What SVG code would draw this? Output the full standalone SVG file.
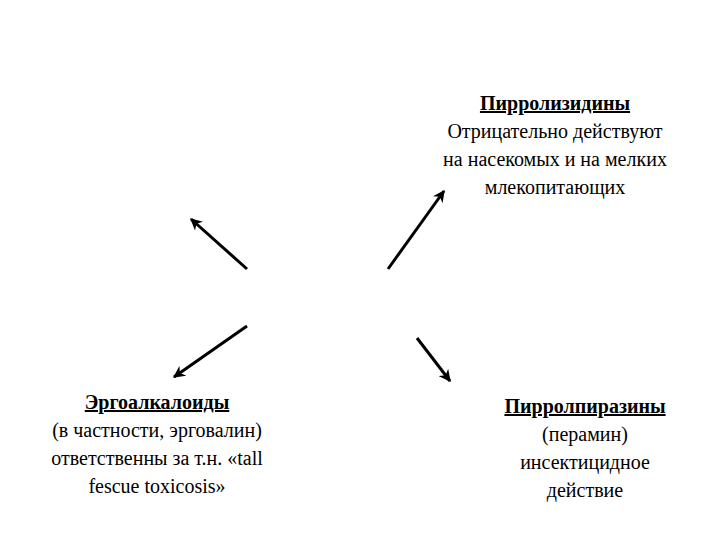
<svg xmlns="http://www.w3.org/2000/svg" width="720" height="540" viewBox="0 0 720 540">
<style>
text{font-family:"Liberation Serif","Times New Roman",serif;font-size:20px;fill:#000;text-anchor:middle}
.t{font-weight:bold;text-decoration:underline}
line{stroke:#000;stroke-width:3}
</style>
<defs><marker id="a" viewBox="0 0 10 10" refX="9" refY="5" markerWidth="4" markerHeight="4" orient="auto"><path d="M0,0L10,5L0,10L3,5z" fill="#000"/></marker></defs>
<rect width="720" height="540" fill="#fff"/>
<g id="connectors">
<line x1="247" y1="269" x2="191" y2="219" marker-end="url(#a)"/>
<line x1="388" y1="269" x2="444" y2="191" marker-end="url(#a)"/>
<line x1="247" y1="326" x2="174" y2="377" marker-end="url(#a)"/>
<line x1="417" y1="338" x2="450" y2="381" marker-end="url(#a)"/>
</g>
<g id="pyrrolizidines">
<text x="555" y="110" class="t">Пирролизидины</text>
<text x="555" y="138">Отрицательно действуют</text>
<text x="555" y="166">на насекомых и на мелких</text>
<text x="555" y="194">млекопитающих</text>
</g>
<g id="ergoalkaloids">
<text x="157" y="409" class="t">Эргоалкалоиды</text>
<text x="157" y="437">(в частности, эрговалин)</text>
<text x="157" y="465">ответственны за т.н. «tall</text>
<text x="157" y="493">fescue toxicosis»</text>
</g>
<g id="pyrrolopyrazines">
<text x="585" y="413" class="t">Пирролпиразины</text>
<text x="585" y="441">(перамин)</text>
<text x="585" y="469">инсектицидное</text>
<text x="585" y="497">действие</text>
</g>
</svg>
